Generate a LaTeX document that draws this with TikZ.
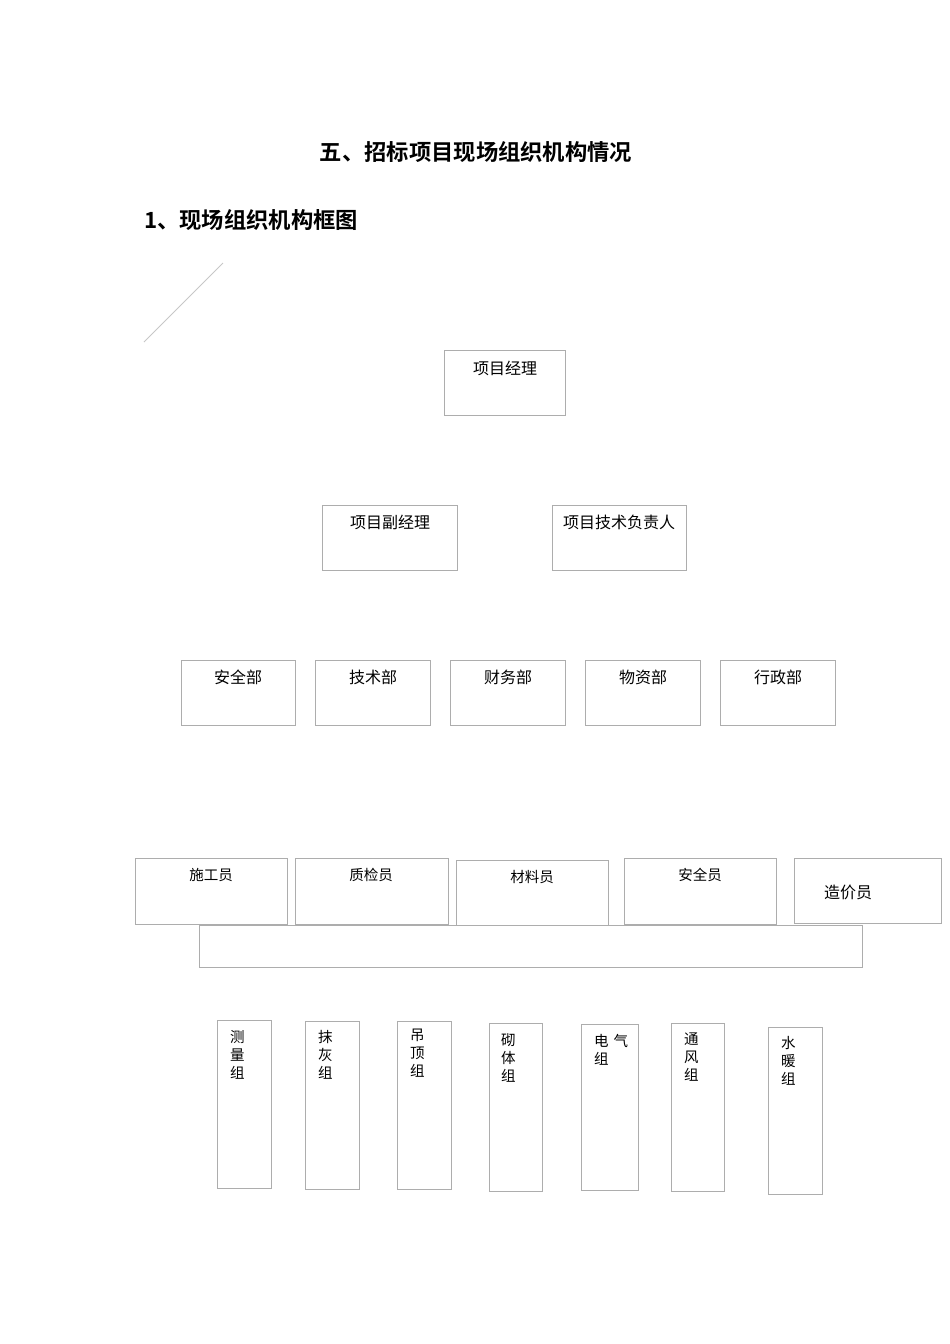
\documentclass[tikz,border=0pt]{standalone}
\usepackage{fontspec}
\setmainfont{Liberation Serif}
\newfontfamily\cjk{Noto Sans CJK SC}[BoldFont={Noto Sans CJK SC Bold}]
\usetikzlibrary{calc}
\begin{document}
\begin{tikzpicture}[x=1pt,y=-1pt,
  box/.style={draw=black!32,line width=0.8pt,inner sep=0pt,rectangle},
  txt/.style={inner sep=0pt,font=\cjk\fontsize{16}{16}\selectfont},
  stxt/.style={inner sep=0pt,font=\cjk\fontsize{14.5}{14.5}\selectfont},
  vtxt/.style={inner sep=0pt,anchor=north west,align=left,font=\cjk\fontsize{14.5}{18}\selectfont}]
\useasboundingbox (0,0) rectangle (950,1344);
\fill[white] (0,0) rectangle (950,1344);
% titles
\node[inner sep=0pt,font=\cjk\bfseries\fontsize{22.3}{22.3}\selectfont] (title) at (476,152) {五、招标项目现场组织机构情况};
\node[inner sep=0pt,anchor=west,font=\cjk\bfseries\fontsize{22.3}{22.3}\selectfont] (sub) at (144,220) {1、现场组织机构框图};
% diagonal
\coordinate (da) at (144,342);
\coordinate (db) at (223,263);
\draw[black!22,line width=0.8pt] (da) -- (db);
% level 1
\node[box,minimum width=121,minimum height=65] (pm) at (504.5,382.5) {};
\node[txt] (pmt) at (505,368) {项目经理};
% level 2
\node[box,minimum width=135,minimum height=65] (vpm) at (389.5,537.5) {};
\node[txt] (vpmt) at (390,522) {项目副经理};
\node[box,minimum width=134,minimum height=65] (tec) at (619,537.5) {};
\node[txt] (tect) at (619,522) {项目技术负责人};
% level 3
\node[box,minimum width=114,minimum height=65] (d1) at (238,692.5) {};
\node[box,minimum width=115,minimum height=65] (d2) at (372.5,692.5) {};
\node[box,minimum width=115,minimum height=65] (d3) at (507.5,692.5) {};
\node[box,minimum width=115,minimum height=65] (d4) at (642.5,692.5) {};
\node[box,minimum width=115,minimum height=65] (d5) at (777.5,692.5) {};
\node[txt] (d1t) at (238,677) {安全部};
\node[txt] (d2t) at (373,677) {技术部};
\node[txt] (d3t) at (508,677) {财务部};
\node[txt] (d4t) at (643,677) {物资部};
\node[txt] (d5t) at (778,677) {行政部};
% level 4
\node[box,minimum width=152,minimum height=66] (r1) at (211,891) {};
\node[box,minimum width=153,minimum height=66] (r2) at (371.5,891) {};
\node[box,minimum width=152,minimum height=65] (r3) at (532,892.5) {};
\node[box,minimum width=152,minimum height=66] (r4) at (700,891) {};
\node[box,minimum width=147,minimum height=65] (r5) at (867.5,890.5) {};
\node[stxt] (r1t) at (211,875) {施工员};
\node[stxt] (r2t) at (371,875) {质检员};
\node[stxt] (r3t) at (532,877) {材料员};
\node[stxt] (r4t) at (700,875) {安全员};
\node[txt] (r5t) at (848,892) {造价员};
\node[box,minimum width=663,minimum height=42] (wide) at (530.5,946) {};
% level 5
\node[box,minimum width=54,minimum height=168] (g1) at (244,1104) {};
\node[box,minimum width=54,minimum height=168] (g2) at (332,1105) {};
\node[box,minimum width=54,minimum height=168] (g3) at (424,1105) {};
\node[box,minimum width=53,minimum height=168] (g4) at (515.5,1107) {};
\node[box,minimum width=57,minimum height=166] (g5) at (609.5,1107) {};
\node[box,minimum width=53,minimum height=168] (g6) at (697.5,1107) {};
\node[box,minimum width=54,minimum height=167] (g7) at (795,1110.5) {};
\node[vtxt] (g1t) at (230,1030) {测\\量\\组};
\node[vtxt] (g2t) at (318,1030) {抹\\灰\\组};
\node[vtxt] (g3t) at (410,1029) {吊\\顶\\组};
\node[vtxt] (g4t) at (501,1033) {砌\\体\\组};
\node[vtxt] (g5t) at (594,1034) {电\hspace{5pt}气\\组};
\node[vtxt] (g6t) at (684,1033) {通\\风\\组};
\node[vtxt] (g7t) at (781,1036) {水\\暖\\组};
\end{tikzpicture}
\end{document}
